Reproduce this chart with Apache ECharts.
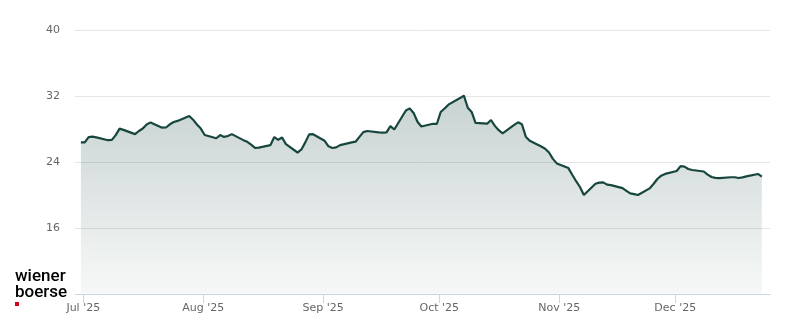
<!DOCTYPE html>
<html>
<head>
<meta charset="utf-8">
<script src="https://cdn.jsdelivr.net/npm/echarts@6/dist/echarts.min.js"></script>
<style>
html,body{margin:0;padding:0;background:#fff;}
#chart{width:800px;height:324px;}
</style>
</head>
<body>
<div id="chart"></div>
<script>
// ---- data ----
const dates = [
  '2025-06-30','2025-07-01','2025-07-02','2025-07-03','2025-07-04','2025-07-07','2025-07-08','2025-07-09','2025-07-10','2025-07-11',
  '2025-07-14','2025-07-15','2025-07-16','2025-07-17','2025-07-18','2025-07-21','2025-07-22','2025-07-23','2025-07-24','2025-07-25',
  '2025-07-28','2025-07-29','2025-07-30','2025-07-31',
  '2025-08-01','2025-08-04','2025-08-05','2025-08-06','2025-08-07','2025-08-08','2025-08-11','2025-08-12','2025-08-13','2025-08-14',
  '2025-08-15','2025-08-18','2025-08-19','2025-08-20','2025-08-21','2025-08-22','2025-08-25','2025-08-26','2025-08-27','2025-08-28','2025-08-29',
  '2025-09-01','2025-09-02','2025-09-03','2025-09-04','2025-09-05','2025-09-08','2025-09-09','2025-09-10','2025-09-11','2025-09-12',
  '2025-09-15','2025-09-16','2025-09-17','2025-09-18','2025-09-19','2025-09-22','2025-09-23','2025-09-24','2025-09-25','2025-09-26',
  '2025-09-29','2025-09-30',
  '2025-10-01','2025-10-02','2025-10-03','2025-10-06','2025-10-07','2025-10-08','2025-10-09','2025-10-10','2025-10-13','2025-10-14',
  '2025-10-15','2025-10-16','2025-10-17','2025-10-20','2025-10-21','2025-10-22','2025-10-23','2025-10-24','2025-10-27','2025-10-28',
  '2025-10-29','2025-10-30','2025-10-31',
  '2025-11-03','2025-11-04','2025-11-05','2025-11-06','2025-11-07','2025-11-10','2025-11-11','2025-11-12','2025-11-13','2025-11-14',
  '2025-11-17','2025-11-18','2025-11-19','2025-11-20','2025-11-21','2025-11-24','2025-11-25','2025-11-26','2025-11-27','2025-11-28',
  '2025-12-01','2025-12-02','2025-12-03','2025-12-04','2025-12-05','2025-12-08','2025-12-09','2025-12-10','2025-12-11','2025-12-12',
  '2025-12-15','2025-12-16','2025-12-17','2025-12-18','2025-12-19','2025-12-22','2025-12-23'
];
const prices = [
  26.39,26.39,27.02,27.07,26.98,26.64,26.68,27.26,28.04,27.89,
  27.38,27.76,28.06,28.55,28.80,28.16,28.18,28.57,28.84,28.98,
  29.58,29.13,28.55,28.05,
  27.27,26.88,27.26,27.04,27.15,27.38,26.65,26.45,26.10,25.72,
  25.75,26.05,27.02,26.69,26.97,26.17,25.15,25.52,26.38,27.35,27.37,
  26.57,25.90,25.70,25.77,26.04,26.38,26.46,27.04,27.62,27.76,
  27.60,27.56,27.59,28.35,27.94,30.24,30.50,29.95,28.88,28.30,
  28.63,28.61,
  30.06,30.48,30.95,31.75,32.05,30.58,30.07,28.74,28.64,29.09,
  28.38,27.85,27.48,28.50,28.81,28.57,27.07,26.58,25.87,25.61,
  25.15,24.38,23.83,
  23.26,22.45,21.67,20.97,20.00,21.36,21.50,21.53,21.26,21.20,
  20.84,20.51,20.19,20.10,20.00,20.80,21.33,21.94,22.34,22.56,
  22.91,23.50,23.44,23.15,23.03,22.85,22.47,22.18,22.08,22.05,
  22.15,22.15,22.06,22.13,22.25,22.55,22.22
];
const yTicks = [8, 16, 24, 32, 40];
const monthNames = ['Jan','Feb','Mar','Apr','May','Jun','Jul','Aug','Sep','Oct','Nov','Dec'];
const xRange = ['2025-06-28 20:30', '2025-12-25 11:45'];

const seriesData = dates.map((d, i) => [d + ' 09:00', prices[i]]);

const chart = echarts.init(document.getElementById('chart'), null, {renderer: 'canvas'});
chart.setOption({
  animation: false,
  backgroundColor: '#ffffff',
  grid: {left: 75, right: 30, top: 30, bottom: 30, containLabel: false},
  xAxis: {
    type: 'time',
    min: xRange[0],
    max: xRange[1],
    minInterval: 28 * 86400000,
    maxInterval: 31 * 86400000,
    splitNumber: 6,
    axisLine: {show: true, lineStyle: {color: '#ccd6eb', width: 1}},
    axisTick: {show: true, length: 9, lineStyle: {color: '#ccd6eb', width: 1}},
    minorTick: {show: false},
    splitLine: {show: false},
    axisLabel: {
      color: '#666666',
      fontFamily: 'DejaVu Sans',
      fontSize: 11,
      margin: 9,
      hideOverlap: false,
      formatter: function (val) {
        const d = new Date(val);
        return monthNames[d.getMonth()] + " '" + String(d.getFullYear()).slice(2);
      }
    }
  },
  yAxis: {
    type: 'value',
    min: yTicks[0],
    max: yTicks[yTicks.length - 1],
    interval: 8,
    axisLine: {show: false},
    axisTick: {show: false},
    splitLine: {show: true, lineStyle: {color: '#e6e6e6', width: 1}},
    axisLabel: {
      color: '#666666',
      fontFamily: 'DejaVu Sans',
      fontSize: 11,
      margin: 15,
      showMinLabel: false,
      formatter: function (v) { return v === yTicks[0] ? '' : String(v); }
    }
  },
  series: [{
    type: 'line',
    data: seriesData,
    showSymbol: false,
    symbol: 'none',
    smooth: false,
    lineStyle: {color: '#17463f', width: 2.2},
    areaStyle: {
      origin: 'start',
      color: new echarts.graphic.LinearGradient(0, 0, 0, 1, [
        {offset: 0, color: 'rgba(23,70,63,0.34)'},
        {offset: 1, color: 'rgba(23,70,63,0.05)'}
      ])
    }
  }],
  graphic: [
    {type: 'text', left: 15, top: 268, style: {text: 'wiener', font: '500 17px Roboto, "Liberation Sans", sans-serif', fill: '#000000'}},
    {type: 'text', left: 15, top: 284, style: {text: 'boerse', font: '500 17px Roboto, "Liberation Sans", sans-serif', fill: '#000000'}},
    {type: 'rect', shape: {x: 15, y: 302, width: 4, height: 4}, style: {fill: '#d6001c'}}
  ]
});
</script>
</body>
</html>
